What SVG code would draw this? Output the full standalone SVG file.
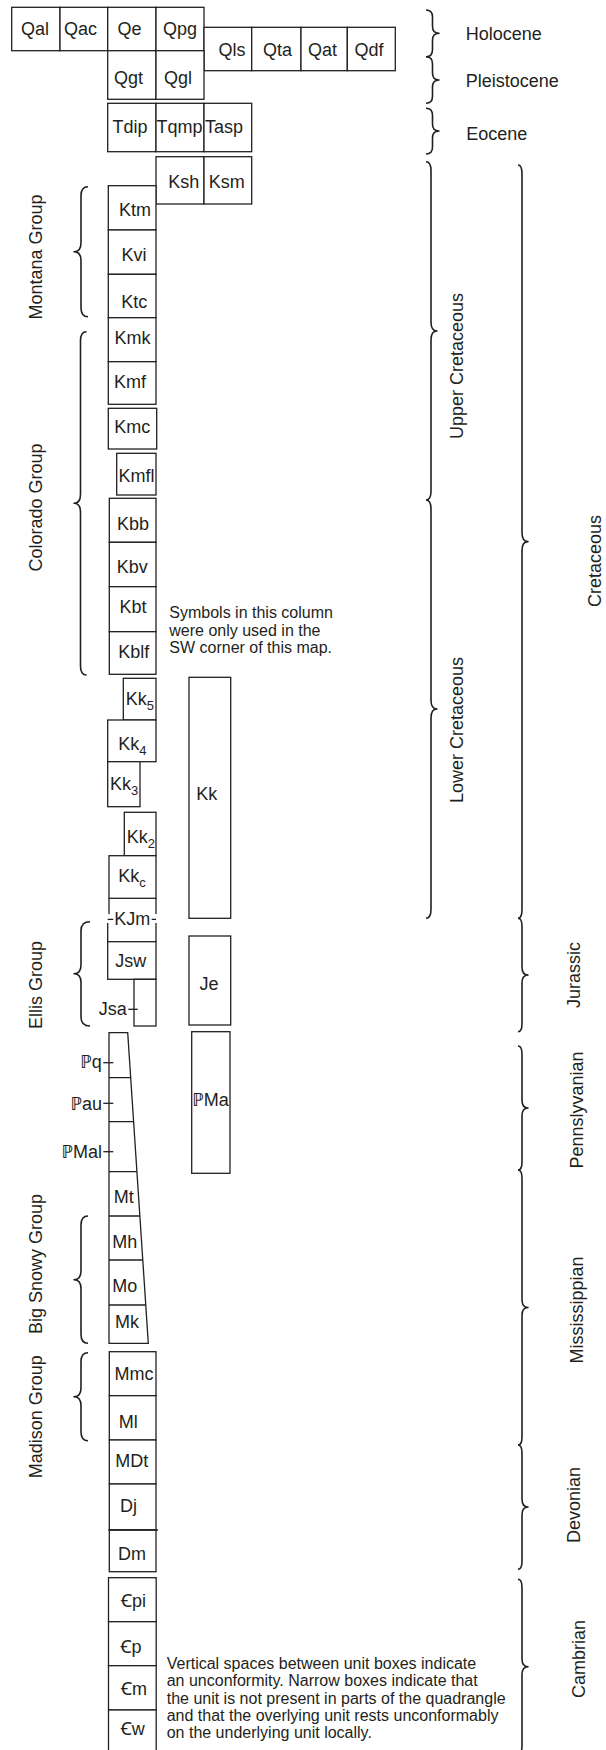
<svg xmlns="http://www.w3.org/2000/svg" width="606" height="1750" viewBox="0 0 606 1750">
<style>
.b{fill:#fff;stroke:#231f20;stroke-width:1.3}
.l{fill:none;stroke:#231f20;stroke-width:1.3}
.br{fill:none;stroke:#231f20;stroke-width:1.6;stroke-linejoin:round}
text{font-family:"Liberation Sans",Arial,"Noto Sans","DejaVu Sans",sans-serif;fill:#231f20}
.t{font-size:18px;text-anchor:middle}
.s{font-size:18px;text-anchor:start}
.e{font-size:18px;text-anchor:end}
.n{font-size:16px}
.sub{font-size:13px}
</style>
<rect width="606" height="1750" fill="#fff"/>

<!-- Quaternary -->
<g id="Qal"><rect class="b" x="11.7" y="7.3" width="48.3" height="43.4"/><text class="t" x="35" y="35">Qal</text></g>
<g id="Qac"><rect class="b" x="60" y="7.3" width="47.7" height="43.4"/><text class="t" x="80.5" y="35">Qac</text></g>
<g id="Qe"><rect class="b" x="107.7" y="7.3" width="48.3" height="43.4"/><text class="t" x="129.5" y="35">Qe</text></g>
<g id="Qpg"><rect class="b" x="156" y="7.3" width="48" height="43.4"/><text class="t" x="180" y="35">Qpg</text></g>
<g id="Qls"><rect class="b" x="204" y="27.3" width="47.7" height="43.4"/><text class="t" x="232" y="56">Qls</text></g>
<g id="Qta"><rect class="b" x="251.7" y="27.3" width="49.3" height="43.4"/><text class="t" x="277.5" y="55.5">Qta</text></g>
<g id="Qat"><rect class="b" x="301" y="27.3" width="46.3" height="43.4"/><text class="t" x="322.5" y="55.5">Qat</text></g>
<g id="Qdf"><rect class="b" x="347.3" y="27.3" width="48" height="43.4"/><text class="t" x="369" y="55.5">Qdf</text></g>
<g id="Qgt"><rect class="b" x="107.7" y="50.7" width="48.3" height="48.6"/><text class="t" x="128.5" y="84">Qgt</text></g>
<g id="Qgl"><rect class="b" x="156" y="50.7" width="48" height="48.6"/><text class="t" x="178" y="84">Qgl</text></g>

<!-- Tertiary -->
<g id="Tdip"><rect class="b" x="107.7" y="103.3" width="48.3" height="48.4"/><text class="t" x="130" y="132.7">Tdip</text></g>
<g id="Tqmp"><rect class="b" x="156" y="103.3" width="48" height="48.4"/><text class="t" x="179.5" y="132.7">Tqmp</text></g>
<g id="Tasp"><rect class="b" x="204" y="103.3" width="47.7" height="48.4"/><text class="t" x="224" y="132.7">Tasp</text></g>

<!-- Cretaceous -->
<g id="Ksh"><rect class="b" x="156" y="156.7" width="48" height="47.3"/><text class="t" x="183.7" y="188.3">Ksh</text></g>
<g id="Ksm"><rect class="b" x="204" y="156.7" width="47.7" height="47.3"/><text class="t" x="226.7" y="188.3">Ksm</text></g>
<g id="Ktm"><rect class="b" x="108.3" y="185.7" width="47.7" height="44.3"/><text class="t" x="135" y="216">Ktm</text></g>
<g id="Kvi"><rect class="b" x="108.3" y="230" width="47.7" height="44.3"/><text class="t" x="134" y="261">Kvi</text></g>
<g id="Ktc"><rect class="b" x="108.3" y="274.3" width="47.7" height="43.4"/><text class="t" x="134.3" y="308.3">Ktc</text></g>
<g id="Kmk"><rect class="b" x="108.3" y="317.7" width="47.7" height="44"/><text class="t" x="132.5" y="344">Kmk</text></g>
<g id="Kmf"><rect class="b" x="108.3" y="361.7" width="47.7" height="42.6"/><text class="t" x="130" y="388.3">Kmf</text></g>
<g id="Kmc"><rect class="b" x="108.3" y="408.3" width="48.4" height="40.7"/><text class="t" x="132.2" y="433.3">Kmc</text></g>
<g id="Kmfl"><rect class="b" x="116.7" y="453.3" width="39.3" height="41.7"/><text class="t" x="136.5" y="481.7">Kmfl</text></g>
<g id="Kbb"><rect class="b" x="109.3" y="498.3" width="46.7" height="44"/><text class="t" x="133" y="530">Kbb</text></g>
<g id="Kbv"><rect class="b" x="109.3" y="542.3" width="46.7" height="44.4"/><text class="t" x="132.2" y="573.3">Kbv</text></g>
<g id="Kbt"><rect class="b" x="109.3" y="586.7" width="46.7" height="45"/><text class="t" x="133" y="612.7">Kbt</text></g>
<g id="Kblf"><rect class="b" x="109.3" y="631.7" width="46.7" height="42.6"/><text class="t" x="133.8" y="658.3">Kblf</text></g>
<g id="Kk5"><rect class="b" x="123.3" y="678.3" width="32.7" height="41.7"/><text class="s" x="125.7" y="705">Kk<tspan class="sub" dy="5">5</tspan></text></g>
<g id="Kk4"><rect class="b" x="107.7" y="720" width="48.3" height="41.7"/><text class="s" x="118.3" y="750">Kk<tspan class="sub" dy="5">4</tspan></text></g>
<g id="Kk3"><rect class="b" x="107.7" y="761.7" width="32.3" height="45"/><text class="s" x="110" y="790">Kk<tspan class="sub" dy="5">3</tspan></text></g>
<g id="Kk2"><rect class="b" x="124.3" y="812.3" width="31.7" height="43.4"/><text class="s" x="126.7" y="843.3">Kk<tspan class="sub" dy="5">2</tspan></text></g>
<g id="Kkc"><rect class="b" x="109" y="855.7" width="47" height="42.6"/><text class="s" x="118.3" y="881.7">Kk<tspan class="sub" dy="5">c</tspan></text></g>
<g id="KJm">
<path class="l" d="M109,898.3 V914 M156,898.3 V914 M107.7,923 V941.7 M156,923 V941.7 M107.7,919.3 H113.3 M151.7,919.3 H156"/>
<text class="t" x="132.2" y="925">KJm</text>
</g>
<g id="Kk"><rect class="b" x="189" y="677.3" width="41.7" height="241"/><text class="t" x="206.7" y="800">Kk</text></g>

<!-- Jurassic -->
<g id="Jsw"><rect class="b" x="107.7" y="941.7" width="48.3" height="37.6"/><text class="t" x="130.8" y="966.7">Jsw</text></g>
<g id="Jsa"><rect class="b" x="134" y="979.3" width="22" height="46.7"/><path class="l" d="M128.3,1009.3 H137.7"/><text class="e" x="126.7" y="1015">Jsa</text></g>
<g id="Je"><rect class="b" x="189" y="936" width="41.7" height="89"/><text class="t" x="209" y="990">Je</text></g>

<!-- Pennsylvanian / Mississippian tapered column -->
<g id="taper">
<polygon class="b" points="109,1032.7 127.7,1032.7 148.3,1343.3 109,1343.3"/>
<path class="l" d="M109,1077.7 H130.7 M109,1121.7 H133.6 M109,1171.7 H136.9 M109,1216 H139.9 M109,1260 H142.8 M109,1305 H145.8"/>
</g>
<g id="Pq"><path class="l" d="M103.3,1062.7 H113.3"/><text class="e" x="101.7" y="1068.3">ℙq</text></g>
<g id="Pau"><path class="l" d="M103.3,1103.3 H113.3"/><text class="e" x="102" y="1109.7">ℙau</text></g>
<g id="PMal"><path class="l" d="M103.3,1151.7 H113.3"/><text class="e" x="102" y="1158">ℙMal</text></g>
<g id="Mt"><text class="t" x="123.7" y="1203.3">Mt</text></g>
<g id="Mh"><text class="t" x="124.7" y="1247.7">Mh</text></g>
<g id="Mo"><text class="t" x="124.7" y="1291.7">Mo</text></g>
<g id="Mk"><text class="t" x="127" y="1328.3">Mk</text></g>
<g id="PMa"><rect class="b" x="191.7" y="1031.7" width="38.3" height="141.6"/><text class="t" x="210.3" y="1106">ℙMa</text></g>

<!-- Madison / Devonian / Cambrian -->
<g id="Mmc"><rect class="b" x="109.3" y="1351.7" width="46.7" height="44"/><text class="t" x="134" y="1380">Mmc</text></g>
<g id="Ml"><rect class="b" x="109.3" y="1395.7" width="46.7" height="44.3"/><text class="t" x="128.2" y="1428.3">Ml</text></g>
<g id="MDt"><rect class="b" x="109.3" y="1440" width="46.7" height="44"/><text class="t" x="131.7" y="1466.7">MDt</text></g>
<g id="Dj"><rect class="b" x="109.3" y="1484" width="46.7" height="46"/><text class="t" x="128.5" y="1511.7">Dj</text></g>
<g id="Dm"><rect class="b" x="109.3" y="1530" width="46.7" height="41.7"/><path class="l" d="M108.5,1530 H158"/><text class="t" x="132" y="1560">Dm</text></g>
<g id="Cpi"><rect class="b" x="108.5" y="1577.7" width="47.7" height="44"/><text class="t" x="133.5" y="1606.7">Ꞓpi</text></g>
<g id="Cp"><rect class="b" x="108.5" y="1621.7" width="47.7" height="44"/><text class="t" x="131" y="1653.3">Ꞓp</text></g>
<g id="Cm"><rect class="b" x="108.5" y="1665.7" width="47.7" height="44.3"/><text class="t" x="134" y="1695">Ꞓm</text></g>
<g id="Cw"><rect class="b" x="108.5" y="1710" width="47.7" height="45"/><text class="t" x="132.8" y="1735">Ꞓw</text></g>

<!-- notes -->
<g id="note-sw">
<text class="n" x="169.3" y="618.3">Symbols in this column</text>
<text class="n" x="169.3" y="635.7">were only used in the</text>
<text class="n" x="169.3" y="653">SW corner of this map.</text>
</g>
<g id="note-bottom">
<text class="n" x="166.7" y="1669">Vertical spaces between unit boxes indicate</text>
<text class="n" x="166.7" y="1686.3">an unconformity. Narrow boxes indicate that</text>
<text class="n" x="166.7" y="1703.5">the unit is not present in parts of the quadrangle</text>
<text class="n" x="166.7" y="1720.8">and that the overlying unit rests unconformably</text>
<text class="n" x="166.7" y="1738">on the underlying unit locally.</text>
</g>

<!-- group labels (left) -->
<g id="montana-group">
<path class="br" d="M88,186.7 Q81,186.7 81,195.7 L81,242.7 Q81,251.7 74,251.7 Q81,251.7 81,260.7 L81,307.7 Q81,316.7 88,316.7"/>
<text class="t" transform="translate(41.7,257) rotate(-90)">Montana Group</text>
</g>
<g id="colorado-group">
<path class="br" d="M86.5,331.7 Q80.5,331.7 80.5,340.7 L80.5,494.3 Q80.5,503.3 74,503.3 Q80.5,503.3 80.5,512.3 L80.5,666 Q80.5,675 86.5,675"/>
<text class="t" transform="translate(41.7,507.5) rotate(-90)">Colorado Group</text>
</g>
<g id="ellis-group">
<path class="br" d="M90,921.7 Q81,921.7 81,930.7 L81,964.8 Q81,973.8 74,973.8 Q81,973.8 81,982.8 L81,1017 Q81,1026 90,1026"/>
<text class="t" transform="translate(41.7,985) rotate(-90)">Ellis Group</text>
</g>
<g id="big-snowy-group">
<path class="br" d="M88,1216 Q81,1216 81,1225 L81,1270.7 Q81,1279.7 74,1279.7 Q81,1279.7 81,1288.7 L81,1334.3 Q81,1343.3 88,1343.3"/>
<text class="t" transform="translate(41.7,1264) rotate(-90)">Big Snowy Group</text>
</g>
<g id="madison-group">
<path class="br" d="M88,1352.7 Q81,1352.7 81,1361.7 L81,1387.7 Q81,1396.7 74,1396.7 Q81,1396.7 81,1405.7 L81,1431.7 Q81,1440.7 88,1440.7"/>
<text class="t" transform="translate(41.7,1416.7) rotate(-90)">Madison Group</text>
</g>

<!-- epochs / periods (right) -->
<g id="holocene">
<path class="br" d="M426,10 Q432.5,10 432.5,17 L432.5,26.3 Q432.5,33.3 439,33.3 Q432.5,33.3 432.5,40.3 L432.5,49.7 Q432.5,56.7 426,56.7"/>
<text class="s" x="465.7" y="40">Holocene</text>
</g>
<g id="pleistocene">
<path class="br" d="M426,56.7 Q432.5,56.7 432.5,63.7 L432.5,73 Q432.5,80 439,80 Q432.5,80 432.5,87 L432.5,96.3 Q432.5,103.3 426,103.3"/>
<text class="s" x="465.7" y="87.3">Pleistocene</text>
</g>
<g id="eocene">
<path class="br" d="M426,108.3 Q432.5,108.3 432.5,115.3 L432.5,124 Q432.5,131 439,131 Q432.5,131 432.5,138 L432.5,147 Q432.5,154 426,154"/>
<text class="s" x="466.3" y="140">Eocene</text>
</g>
<g id="upper-cretaceous">
<path class="br" d="M426,161.7 Q431,161.7 431,170.7 L431,322 Q431,331 437,331 Q431,331 431,340 L431,491 Q431,500 426,500"/>
<text class="t" transform="translate(462.5,366) rotate(-90)">Upper Cretaceous</text>
</g>
<g id="lower-cretaceous">
<path class="br" d="M426,500 Q431,500 431,509 L431,700 Q431,709 437,709 Q431,709 431,718 L431,909.3 Q431,918.3 426,918.3"/>
<text class="t" transform="translate(462.5,730) rotate(-90)">Lower Cretaceous</text>
</g>
<g id="cretaceous">
<path class="br" d="M518,165 Q522,165 522,174 L522,532.6 Q522,541.6 528,541.6 Q522,541.6 522,550.6 L522,909.3 Q522,918.3 518,918.3"/>
<text class="t" transform="translate(601,561) rotate(-90)">Cretaceous</text>
</g>
<g id="jurassic">
<path class="br" d="M518,918.3 Q522,918.3 522,926.3 L522,967 Q522,975 528,975 Q522,975 522,983 L522,1023.7 Q522,1031.7 518,1031.7"/>
<text class="t" transform="translate(580,975) rotate(-90)">Jurassic</text>
</g>
<g id="pennsylvanian">
<path class="br" d="M518,1046 Q522,1046 522,1054 L522,1100 Q522,1108 528,1108 Q522,1108 522,1116 L522,1162 Q522,1170 518,1170"/>
<text class="t" transform="translate(582.5,1110) rotate(-90)">Pennslyvanian</text>
</g>
<g id="mississippian">
<path class="br" d="M518,1170 Q522,1170 522,1178 L522,1299.5 Q522,1307.5 528,1307.5 Q522,1307.5 522,1315.5 L522,1437 Q522,1445 518,1445"/>
<text class="t" transform="translate(582.5,1310) rotate(-90)">Mississippian</text>
</g>
<g id="devonian">
<path class="br" d="M518,1445 Q522,1445 522,1453 L522,1499 Q522,1507 528,1507 Q522,1507 522,1515 L522,1561.3 Q522,1569.3 518,1569.3"/>
<text class="t" transform="translate(579.5,1505) rotate(-90)">Devonian</text>
</g>
<g id="cambrian">
<path class="br" d="M518,1579.3 Q522,1579.3 522,1587.3 L522,1658.7 Q522,1666.7 528,1666.7 Q522,1666.7 522,1674.7 L522,1746 Q522,1754 518,1754"/>
<text class="t" transform="translate(584.5,1659) rotate(-90)">Cambrian</text>
</g>
</svg>
